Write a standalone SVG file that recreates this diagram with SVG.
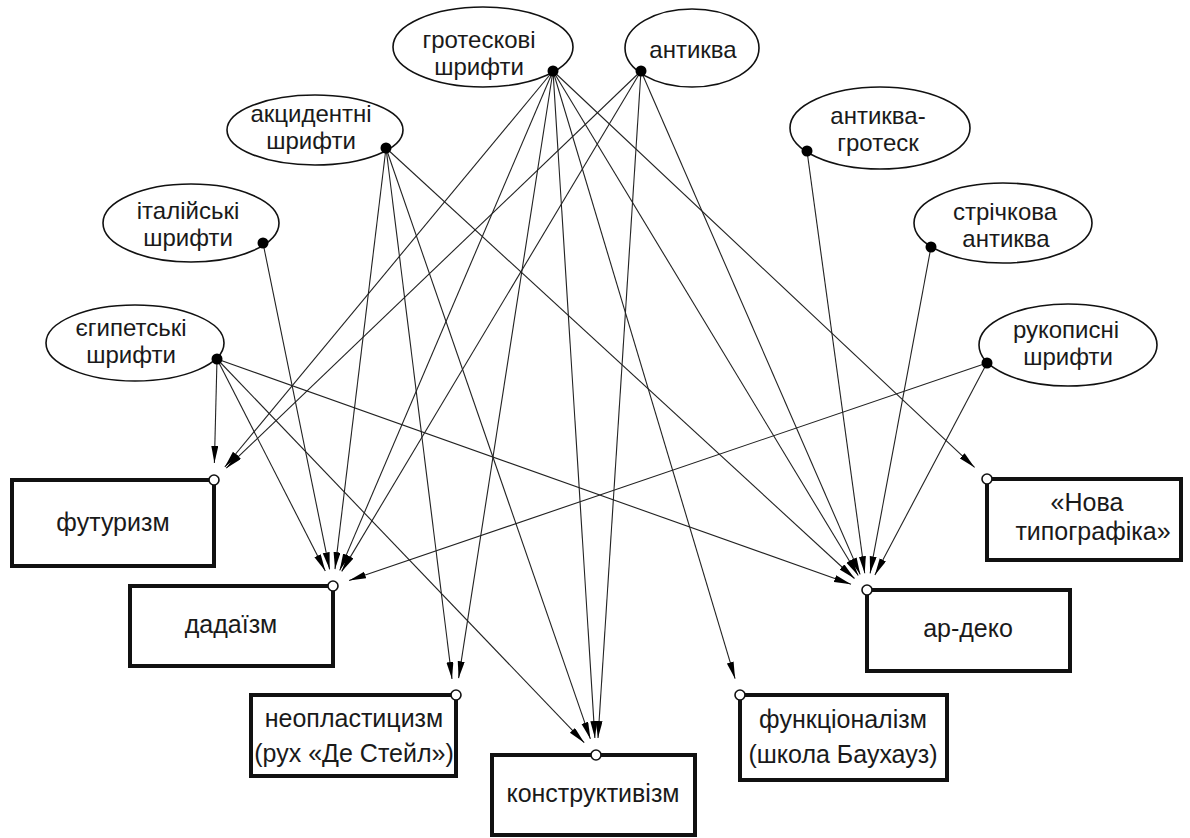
<svg xmlns="http://www.w3.org/2000/svg" width="1190" height="838" viewBox="0 0 1190 838">
<style>
.bg{fill:#fff}
.ell{fill:#fff;stroke:#111;stroke-width:1.6}
.box{fill:#fff;stroke:#111;stroke-width:4}
.dot{fill:#000}
.port{fill:#fff;stroke:#111;stroke-width:1.6}
.lbl{font-family:"Liberation Sans",Arial,sans-serif;font-size:25px;fill:#1a1a1a;text-anchor:middle}
.el{font-size:24px}
.edge{stroke:#222;stroke-width:1.1;fill:none;marker-end:url(#ah)}
</style>
<defs>
<marker id="ah" markerUnits="userSpaceOnUse" markerWidth="18" markerHeight="8" refX="17" refY="3.5" orient="auto">
<path d="M0,0 L17,3.5 L0,7 Z" fill="#000"/>
</marker>
</defs>
<rect class="bg" x="0" y="0" width="1190" height="838"/>

<g id="connectors">
<line class="edge" x1="217" y1="359" x2="214.4" y2="463"/>
<line class="edge" x1="553" y1="71" x2="224.8" y2="467"/>
<line class="edge" x1="641" y1="71" x2="226.3" y2="468.2"/>
<line class="edge" x1="217" y1="359" x2="325.3" y2="570.9"/>
<line class="edge" x1="263" y1="243" x2="329.6" y2="569.3"/>
<line class="edge" x1="386" y1="148" x2="335" y2="569.1"/>
<line class="edge" x1="553" y1="71" x2="339.7" y2="570.4"/>
<line class="edge" x1="641" y1="71" x2="341.7" y2="571.4"/>
<line class="edge" x1="987" y1="363" x2="349.1" y2="580.5"/>
<line class="edge" x1="386" y1="148" x2="452" y2="679"/>
<line class="edge" x1="553" y1="71" x2="458.6" y2="678.2"/>
<line class="edge" x1="217" y1="359" x2="584.2" y2="742.7"/>
<line class="edge" x1="386" y1="148" x2="590.4" y2="738.9"/>
<line class="edge" x1="553" y1="71" x2="594.9" y2="738"/>
<line class="edge" x1="641" y1="71" x2="598" y2="738"/>
<line class="edge" x1="553" y1="71" x2="735.1" y2="678.7"/>
<line class="edge" x1="217" y1="359" x2="851" y2="584.3"/>
<line class="edge" x1="386" y1="148" x2="854.5" y2="578.5"/>
<line class="edge" x1="553" y1="71" x2="858.2" y2="575.5"/>
<line class="edge" x1="641" y1="71" x2="860.2" y2="574.4"/>
<line class="edge" x1="807" y1="151" x2="864.7" y2="573.2"/>
<line class="edge" x1="931" y1="247" x2="870.1" y2="573.3"/>
<line class="edge" x1="987" y1="363" x2="874.9" y2="575"/>
<line class="edge" x1="553" y1="71" x2="974.6" y2="467.4"/>
</g>

<g id="n-grotesk">
<ellipse class="ell" cx="483" cy="47" rx="90" ry="40"/>
<text class="lbl el" x="479" y="48">гротескові</text>
<text class="lbl el" x="479" y="75">шрифти</text>
<circle class="dot" cx="553" cy="71" r="5.5"/>
</g>
<g id="n-antykva">
<ellipse class="ell" cx="692" cy="48" rx="67" ry="39"/>
<text class="lbl el" x="693" y="58">антиква</text>
<circle class="dot" cx="641" cy="71" r="5.5"/>
</g>
<g id="n-aktsydentni">
<ellipse class="ell" cx="315" cy="130" rx="88" ry="35"/>
<text class="lbl el" x="311" y="122">акцидентні</text>
<text class="lbl el" x="311" y="149">шрифти</text>
<circle class="dot" cx="386" cy="148" r="5.5"/>
</g>
<g id="n-italiiski">
<ellipse class="ell" cx="191" cy="223" rx="88" ry="39"/>
<text class="lbl el" x="188" y="219">італійські</text>
<text class="lbl el" x="188" y="246">шрифти</text>
<circle class="dot" cx="263" cy="243" r="5.5"/>
</g>
<g id="n-yehypetski">
<ellipse class="ell" cx="135" cy="343" rx="89" ry="38"/>
<text class="lbl el" x="131" y="336">єгипетські</text>
<text class="lbl el" x="131" y="363">шрифти</text>
<circle class="dot" cx="217" cy="359" r="5.5"/>
</g>
<g id="n-antykva-grotesk">
<ellipse class="ell" cx="880" cy="128" rx="90" ry="41"/>
<text class="lbl el" x="878" y="124">антиква-</text>
<text class="lbl el" x="878" y="151">гротеск</text>
<circle class="dot" cx="807" cy="151" r="5.5"/>
</g>
<g id="n-strichkova">
<ellipse class="ell" cx="1003" cy="223" rx="89" ry="40"/>
<text class="lbl el" x="1005" y="220">стрічкова</text>
<text class="lbl el" x="1006" y="247">антиква</text>
<circle class="dot" cx="931" cy="247" r="5.5"/>
</g>
<g id="n-rukopysni">
<ellipse class="ell" cx="1068" cy="345" rx="89" ry="41"/>
<text class="lbl el" x="1066" y="338">рукописні</text>
<text class="lbl el" x="1068" y="365">шрифти</text>
<circle class="dot" cx="987" cy="363" r="5.5"/>
</g>

<g id="b-futuryzm">
<rect class="box" x="12" y="480" width="202" height="86"/>
<text class="lbl" x="113" y="531">футуризм</text>
<circle class="port" cx="214" cy="480" r="5"/>
</g>
<g id="b-dadaizm">
<rect class="box" x="130" y="586" width="203" height="80"/>
<text class="lbl" x="231" y="633">дадаїзм</text>
<circle class="port" cx="333" cy="586" r="5"/>
</g>
<g id="b-neoplastytsyzm">
<rect class="box" x="251" y="695" width="205" height="81"/>
<text class="lbl" x="354" y="727">неопластицизм</text>
<text class="lbl" x="354" y="762">(рух «Де Стейл»)</text>
<circle class="port" cx="456" cy="695" r="5"/>
</g>
<g id="b-konstruktyvizm">
<rect class="box" x="492" y="755" width="203" height="80"/>
<text class="lbl" x="593" y="802">конструктивізм</text>
<circle class="port" cx="596" cy="755" r="5"/>
</g>
<g id="b-funktsionalizm">
<rect class="box" x="740" y="695" width="207" height="85"/>
<text class="lbl" x="843" y="728">функціоналізм</text>
<text class="lbl" x="843" y="763">(школа Баухауз)</text>
<circle class="port" cx="740" cy="695" r="5"/>
</g>
<g id="b-ar-deko">
<rect class="box" x="867" y="590" width="203" height="81"/>
<text class="lbl" x="968" y="637">ар-деко</text>
<circle class="port" cx="867" cy="590" r="5"/>
</g>
<g id="b-nova">
<rect class="box" x="987" y="479" width="194" height="81"/>
<text class="lbl" x="1087" y="511">«Нова</text>
<text class="lbl" x="1093" y="540">типографіка»</text>
<circle class="port" cx="987" cy="479" r="5"/>
</g>
</svg>
